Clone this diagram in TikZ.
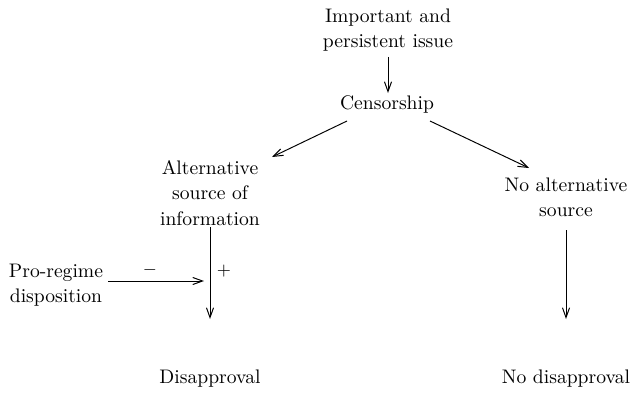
\documentclass[tikz,border=0pt]{standalone}
\usetikzlibrary{calc,arrows.meta}
\begin{document}
\begin{tikzpicture}[x=0.51pt,y=-0.51pt,
  lbl/.style={align=center,inner sep=0pt,font=\fontsize{10}{12.9}\selectfont},
  sgn/.style={inner sep=0pt,font=\small},
  arr/.style={-{Straight Barb[length=5pt,width=3.6pt]},line width=0.5pt}]
\useasboundingbox (0,0) rectangle (631,392);
\node[lbl] (imp) at (388,30) {Important and\\persistent issue};
\node[lbl] (cen) at (387,104) {Censorship};
\node[lbl] (alt) at (210,193) {Alternative\\source of\\information};
\node[lbl] (noalt) at (566,197) {No alternative\\source};
\node[lbl] (pro) at (56,285) {Pro-regime\\disposition};
\node[lbl] (dis) at (210,379) {Disapproval};
\node[lbl] (nodis) at (566,379) {No disapproval};
\coordinate (a1) at (388,57);
\coordinate (a2) at (388,93);
\draw[arr] (a1) -- (a2);
\coordinate (b1) at (347,121);
\coordinate (b2) at (272,157);
\draw[arr] (b1) -- (b2);
\coordinate (c1) at (430,121);
\coordinate (c2) at (529,168);
\draw[arr] (c1) -- (c2);
\coordinate (d1) at (210,227);
\coordinate (d2) at (210,319);
\draw[arr] (d1) -- (d2);
\coordinate (e1) at (566,230);
\coordinate (e2) at (566,319);
\draw[arr] (e1) -- (e2);
\coordinate (f1) at (108,281);
\coordinate (f2) at (204,281);
\draw[arr] (f1) -- (f2);
\node[sgn] (minus) at (150,270) {$-$};
\node[sgn] (plus) at (224,271) {$+$};
\end{tikzpicture}
\end{document}
